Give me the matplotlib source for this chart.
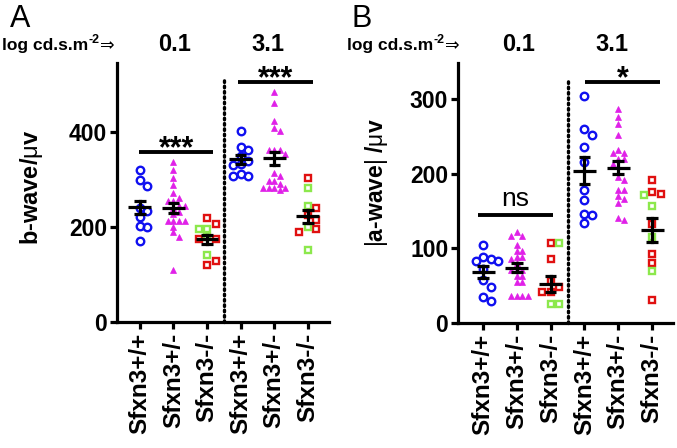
import matplotlib
matplotlib.use('Agg')
import matplotlib.pyplot as plt
import numpy as np

plt.rcParams['font.family'] = ['Liberation Sans', 'DejaVu Sans']
plt.rcParams['mathtext.fontset'] = 'custom'
plt.rcParams['mathtext.rm'] = 'Liberation Sans'
plt.rcParams['mathtext.it'] = 'Liberation Sans'
plt.rcParams['mathtext.bf'] = 'Liberation Sans:bold'

# ---------------- data ----------------
genotypes = ['Sfxn3+/+', 'Sfxn3+/-', 'Sfxn3-/-', 'Sfxn3+/+', 'Sfxn3+/-', 'Sfxn3-/-']
intensities = ['0.1', '3.1']

# Panel A: b-wave (uV)
bwave_01_wt = [321, 300, 286, 240, 235, 222, 203, 201, 171]
bwave_01_het = [337, 321, 304, 288, 272, 262, 255, 255, 245, 245, 241, 231, 228,
                212, 212, 212, 212, 200, 189, 180, 109]
bwave_01_ko_red = [219, 207, 175, 175, 128, 121]
bwave_01_ko_green = [196, 196, 180, 142]
bwave_31_wt = [402, 369, 363, 350, 340, 334, 332, 313, 308, 307]
bwave_31_het = [485, 462, 424, 410, 402, 363, 363, 363, 355, 314, 307, 298, 298,
                290, 283, 283, 283, 283, 279]
bwave_31_ko_red = [303, 241, 226, 215, 196, 189]
bwave_31_ko_green = [283, 245, 200, 152]
bwave_mean = [242, 240, 174, 343, 345, 223]
bwave_sem = [14, 10, 9, 10, 14, 14]
bwave_sig = [(0.98, 3.18, 358, '***'), (3.92, 6.15, 506, '***')]

# Panel B: |a-wave| (uV)
awave_01_wt = [105, 88, 85, 83, 83, 72, 57, 48, 35, 30]
awave_01_het = [122, 117, 117, 105, 97, 97, 88, 88, 86, 80, 71, 71, 71, 63, 63,
                55, 55, 36, 36, 36, 36]
awave_01_ko_red = [107, 85, 56, 48, 42, 41]
awave_01_ko_green = [107, 25, 25]
awave_31_wt = [304, 260, 252, 236, 216, 178, 164, 146, 145, 134]
awave_31_het = [287, 276, 267, 251, 231, 228, 228, 219, 219, 213, 196, 191, 178,
                178, 170, 166, 160, 141, 138]
awave_31_ko_red = [191, 175, 172, 132, 92, 80, 31]
awave_31_ko_green = [171, 157, 115, 69]
awave_mean = [68, 74, 52, 204, 208, 125]
awave_sem = [8, 6, 11, 18, 9, 16]
awave_sig = [(0.85, 3.07, 144, 'ns'), (4.02, 6.24, 322, '*')]

# ---------------- style ----------------
BLUE = '#1010F0'
MAG = '#E020E8'
RED = '#E01010'
GREEN = '#8CE84C'

fig = plt.figure(figsize=(6.77, 4.48), dpi=100)
W, H = 677, 448


def px_axes(l, r, t, b):
    return fig.add_axes([l / W, 1 - b / H, (r - l) / W, (b - t) / H])


axA = px_axes(117, 329, 63, 322)
axB = px_axes(458, 673, 63, 323)


def swarm_x(ax, x0, vals, step, dmin):
    pts = ax.transData.transform(np.column_stack([np.full(len(vals), x0), vals]))
    ys = pts[:, 1]
    xc = pts[0, 0]
    order = np.argsort(-ys)
    placed = []
    xs = np.zeros(len(vals))
    cands = [0.0]
    for j in range(1, 30):
        cands += [j * step, -j * step]
    for i in order:
        for c in cands:
            ok = True
            for (px, py) in placed:
                if (px - c) ** 2 + (py - ys[i]) ** 2 < dmin ** 2:
                    ok = False
                    break
            if ok:
                xs[i] = c
                placed.append((c, ys[i]))
                break
    x_data = ax.transData.inverted().transform(
        np.column_stack([xc + xs, ys]))[:, 0]
    return x_data


def draw_panel(ax, groups, mean, sem, lims, yticks, sig):
    ax.set_xlim(*lims[0])
    ax.set_ylim(*lims[1])
    for gi, g in enumerate(groups):
        x0 = gi + 1
        kind = g[0]
        if kind == 'circle':
            vals = g[1]
            xs = swarm_x(ax, x0, vals, 7.5, 7.0)
            ax.plot(xs, vals, 'o', ms=5.4, mfc='none', mec=BLUE, mew=1.7,
                    zorder=3, clip_on=False)
        elif kind == 'tri':
            vals = g[1]
            xs = swarm_x(ax, x0, vals, 5.6, 5.2)
            ax.plot(xs, vals, '^', ms=4.2, mfc=MAG, mec=MAG, mew=0.5,
                    zorder=3, clip_on=False)
        else:
            red, green = g[1], g[2]
            vals = list(red) + list(green)
            cols = [RED] * len(red) + [GREEN] * len(green)
            xs = swarm_x(ax, x0, vals, 8.5, 7.5)
            for xx, vv, cc in zip(xs, vals, cols):
                ax.plot([xx], [vv], 's', ms=5.0, mfc='white', mec=cc, mew=1.7,
                        zorder=3, clip_on=False)
        m, s = mean[gi], sem[gi]
        ax.plot([x0 - 0.34, x0 + 0.34], [m, m], color='black', lw=2.3,
                zorder=5, solid_capstyle='butt')
        ax.plot([x0, x0], [m - s, m + s], color='black', lw=2.3, zorder=5)
        for yy in (m - s, m + s):
            ax.plot([x0 - 0.17, x0 + 0.17], [yy, yy], color='black', lw=2.3,
                    zorder=5, solid_capstyle='butt')
    ymax = lims[1][1]
    ax.plot([3.5, 3.5], [0, ymax * 0.935], color='black', lw=2.4,
            linestyle=(0, (0.5, 1.1)), dash_capstyle='round', zorder=2,
            clip_on=False)
    for (x1, x2, y, lab) in sig:
        ax.plot([x1, x2], [y, y], color='black', lw=2.8, solid_capstyle='butt',
                clip_on=False, zorder=4)
        xc = (x1 + x2) / 2
        if lab == 'ns':
            ax.annotate(lab, (xc, y), xytext=(0, 7), textcoords='offset points',
                        ha='center', va='baseline', fontsize=19, zorder=6,
                        annotation_clip=False)
        else:
            ax.annotate(lab, (xc, y), xytext=(0, -3.5), textcoords='offset points',
                        ha='center', va='baseline', fontsize=22, fontweight='bold',
                        zorder=6, annotation_clip=False)
    ax.set_yticks(yticks)
    ax.set_yticklabels([str(t) for t in yticks], fontsize=16.5, fontweight='bold')
    ax.set_xticks(range(1, 7))
    ax.set_xticklabels(genotypes, rotation=90, fontsize=17.5, fontweight='bold')
    for sp in ('top', 'right'):
        ax.spines[sp].set_visible(False)
    for sp in ('left', 'bottom'):
        ax.spines[sp].set_linewidth(2.3)
    ax.tick_params(axis='both', width=2.3, length=5, pad=2, color='black')
    ax.tick_params(axis='x', pad=3)
    ax.set_facecolor('none')


groupsA = [('circle', bwave_01_wt), ('tri', bwave_01_het),
           ('sq', bwave_01_ko_red, bwave_01_ko_green),
           ('circle', bwave_31_wt), ('tri', bwave_31_het),
           ('sq', bwave_31_ko_red, bwave_31_ko_green)]
groupsB = [('circle', awave_01_wt), ('tri', awave_01_het),
           ('sq', awave_01_ko_red, awave_01_ko_green),
           ('circle', awave_31_wt), ('tri', awave_31_het),
           ('sq', awave_31_ko_red, awave_31_ko_green)]

draw_panel(axA, groupsA, bwave_mean, bwave_sem, ((0.32, 6.63), (0, 546)),
           [0, 200, 400], bwave_sig)
draw_panel(axB, groupsB, awave_mean, awave_sem, ((0.26, 6.62), (0, 348)),
           [0, 100, 200, 300], awave_sig)

axA.set_ylabel(r'b-wave/$\mu$v', fontsize=17, fontweight='bold')
axA.yaxis.set_label_coords((45 - 117) / 212, 0.52)
axB.set_ylabel(r'$|$a-wave$|$ /$\mu$v', fontsize=16.5, fontweight='bold')
axB.yaxis.set_label_coords((390 - 458) / 215, 0.54)

# header texts
renderer = fig.canvas.get_renderer()
for ax, x_left in ((axA, 2), (axB, 347)):
    t1 = fig.text(x_left / W, 1 - 50 / H, 'log cd.s.m', fontsize=12.5,
                  fontweight='bold', ha='left', va='baseline')
    bb = t1.get_window_extent(renderer)
    t2 = fig.text(bb.x1 / W + 0.5 / W, 1 - 43 / H, '-2', fontsize=9,
                  fontweight='bold', ha='left', va='baseline')
    bb2 = t2.get_window_extent(renderer)
    fig.text(bb2.x1 / W + 0.5 / W, 1 - 50 / H, '⇒', fontsize=12.5,
             family='DejaVu Sans', ha='left', va='baseline')
    tr = ax.get_xaxis_transform()
    ax.text(2.04, 1.073, intensities[0], transform=tr, ha='center',
            va='center', fontsize=17, fontweight='bold')
    ax.text(4.82, 1.073, intensities[1], transform=tr, ha='center',
            va='center', fontsize=17, fontweight='bold')

fig.text(10 / W, 1 - 27 / H, 'A', fontsize=22, ha='left', va='baseline')
fig.text(352 / W, 1 - 27 / H, 'B', fontsize=22, ha='left', va='baseline')

fig.savefig('out.png', dpi=100)
